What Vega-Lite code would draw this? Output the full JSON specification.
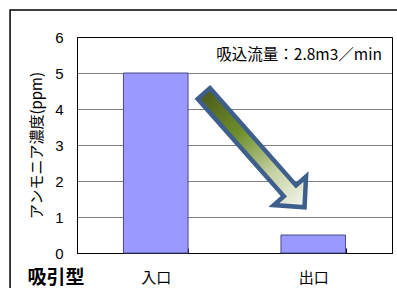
{
  "$schema": "https://vega.github.io/schema/vega-lite/v6.json",
  "width": 315,
  "height": 216,
  "autosize": "none",
  "padding": {"left": 77, "top": 37, "right": 5, "bottom": 35},
  "background": "white",
  "config": {
    "view": {"stroke": "black", "strokeWidth": 1},
    "font": "Liberation Sans",
    "axisY": {
      "tickCount": 6,
      "ticks": false,
      "domain": false,
      "labelFontSize": 15,
      "labelColor": "black",
      "labelPadding": 14,
      "labelOverlap": false,
      "grid": true,
      "gridColor": "black",
      "gridDash": [1, 1],
      "gridWidth": 1,
      "gridOpacity": 1,
      "titleFont": "Noto Sans CJK JP",
      "titleFontSize": 15,
      "titleFontWeight": "normal",
      "titleColor": "black",
      "titleX": -41,
      "titleY": 108,
      "titleAngle": -90,
      "titleAlign": "center",
      "titleBaseline": "middle"
    }
  },
  "datasets": {
    "bars": [
      {"位置": "入口", "濃度": 5},
      {"位置": "出口", "濃度": 0.5}
    ],
    "arrow": [{"x": 1.125, "y": 2.85}],
    "note": [{"x": 1.41, "y": 5.5, "label": "吸込流量：2.8m3／min"}],
    "frame": [{"x1": -0.425, "x2": 2.5, "y1": 6.75, "y2": -1.5}]
  },
  "layer": [
    {
      "data": {"name": "frame"},
      "mark": {"type": "rect", "fill": null, "stroke": "black", "strokeWidth": 1.5, "clip": false},
      "encoding": {
        "x": {"field": "x1", "type": "quantitative", "scale": {"domain": [0, 2]}, "axis": null},
        "x2": {"field": "x2"},
        "y": {"field": "y1", "type": "quantitative", "title": "アンモニア濃度(ppm)", "scale": {"domain": [0, 6], "nice": false, "zero": true}},
        "y2": {"field": "y2"}
      }
    },
    {
      "data": {"name": "bars"},
      "mark": {"type": "bar", "fill": "#9999ff", "stroke": "#4a4a8a", "strokeWidth": 1},
      "encoding": {
        "x": {
          "field": "位置",
          "type": "nominal",
          "sort": ["入口", "出口"],
          "scale": {"paddingInner": 0.59, "paddingOuter": 0.295},
          "axis": {
            "title": "吸引型",
            "titleFont": "Noto Sans CJK JP",
            "titleFontSize": 19,
            "titleFontWeight": "bold",
            "titleColor": "black",
            "titleX": -50,
            "titleY": 24,
            "titleAlign": "left",
            "titleBaseline": "middle",
            "labelAngle": 0,
            "labelFont": "Noto Sans CJK JP",
            "labelFontSize": 15,
            "labelColor": "black",
            "labelPadding": 22,
            "domainColor": "black",
            "ticks": true,
            "tickBand": "extent",
            "tickSize": -5,
            "tickColor": "black"
          }
        },
        "y": {
          "field": "濃度",
          "type": "quantitative",
          "title": "アンモニア濃度(ppm)"
        }
      }
    },
    {
      "data": {"name": "arrow"},
      "mark": {
        "type": "point",
        "shape": "M-1,-0.107L0.71,-0.107L0.71,-0.283L1,0L0.71,0.283L0.71,0.107L-1,0.107Z",
        "size": 23104,
        "angle": 48.5,
        "filled": true,
        "fill": {
          "gradient": "linear",
          "x1": 0, "y1": 0, "x2": 1, "y2": 0,
          "stops": [
            {"offset": 0, "color": "#4e5c1c"},
            {"offset": 0.35, "color": "#6e8f2c"},
            {"offset": 0.7, "color": "#c8d3a6"},
            {"offset": 1, "color": "#f4f6ee"}
          ]
        },
        "stroke": "#3e5f8c",
        "strokeWidth": 4.5,
        "strokeJoin": "miter",
        "opacity": 1,
        "fillOpacity": 1,
        "strokeOpacity": 1
      },
      "encoding": {
        "x": {"field": "x", "type": "quantitative", "scale": {"domain": [0, 2]}, "axis": null},
        "y": {"field": "y", "type": "quantitative", "title": "アンモニア濃度(ppm)"}
      }
    },
    {
      "data": {"name": "note"},
      "mark": {"type": "text", "font": "Noto Sans CJK JP", "fontSize": 15.5, "align": "center", "baseline": "middle", "color": "black"},
      "encoding": {
        "x": {"field": "x", "type": "quantitative", "scale": {"domain": [0, 2]}, "axis": null},
        "y": {"field": "y", "type": "quantitative", "title": "アンモニア濃度(ppm)"},
        "text": {"field": "label"}
      }
    }
  ],
  "resolve": {"scale": {"x": "independent"}}
}
